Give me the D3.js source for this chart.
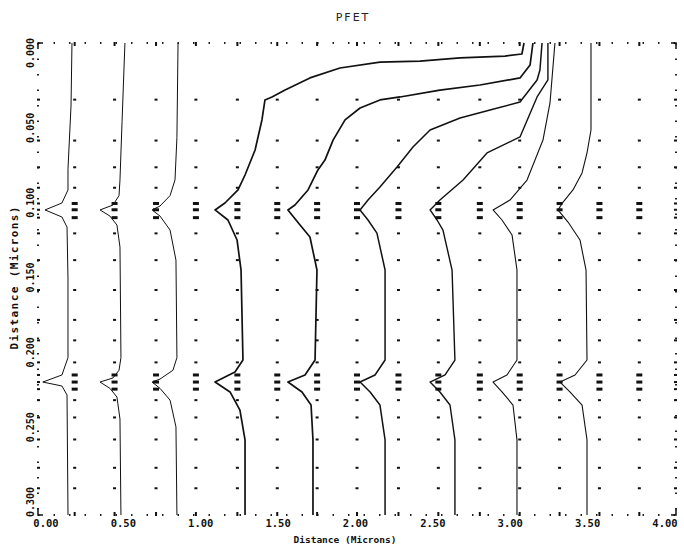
<!DOCTYPE html>
<html>
<head>
<meta charset="utf-8">
<script src="https://cdn.jsdelivr.net/npm/d3@7"></script>
<style>
  body { margin: 0; background: #fff; }
  svg { display: block; }
  .tick-label { font-family: "DejaVu Sans Mono", monospace; font-weight: bold; fill: #111; }
</style>
</head>
<body>
<div id="chart"></div>
<script>
// x / y in microns (x = distance along surface, y = depth)
const xTicks = [0, 0.5, 1.0, 1.5, 2.0, 2.5, 3.0, 3.5, 4.0];
const yTicks = [0, 0.05, 0.10, 0.15, 0.20, 0.25, 0.30];

// mesh node columns / rows
const meshX = [0.23, 0.48, 0.74, 0.99, 1.25, 1.50, 1.75, 2.00, 2.26, 2.51, 2.77, 3.02, 3.27, 3.52, 3.77];
const meshY = [0.036, 0.062, 0.079, 0.092, 0.121, 0.138, 0.157, 0.176, 0.189, 0.203, 0.227, 0.238, 0.252, 0.270, 0.283];
const meshYDense = [0.102, 0.106, 0.111, 0.211, 0.2155, 0.220];

// contour lines, [x, depth]
const line1 = [[0.213,0],[0.207,0.040],[0.188,0.080],[0.188,0.0934],[0.150,0.1017],[0.044,0.1061],[0.150,0.1106],[0.182,0.1170],[0.188,0.150],[0.188,0.200],[0.150,0.2110],[0.030,0.2155],[0.150,0.2180],[0.182,0.2237],[0.188,0.3]];
const line2 = [[0.545,0],[0.527,0.050],[0.514,0.087],[0.508,0.097],[0.470,0.1030],[0.389,0.1061],[0.451,0.1100],[0.495,0.1157],[0.514,0.1297],[0.520,0.200],[0.508,0.2080],[0.470,0.2129],[0.389,0.2155],[0.451,0.2195],[0.495,0.2250],[0.514,0.2390],[0.520,0.3]];
const line3 = [[0.878,0],[0.871,0.060],[0.859,0.087],[0.828,0.097],[0.765,0.1036],[0.715,0.1061],[0.765,0.1100],[0.828,0.1189],[0.865,0.1380],[0.871,0.200],[0.846,0.2080],[0.765,0.2136],[0.715,0.2155],[0.765,0.2195],[0.828,0.2270],[0.865,0.2440],[0.871,0.3]];
const lineA = [[3.047,0],[3.034,0.0070],[2.928,0.0083],[2.646,0.0095],[2.395,0.0115],[2.144,0.0121],[1.893,0.0159],[1.705,0.0222],[1.549,0.0299],[1.467,0.0343],[1.423,0.0362],[1.404,0.0489],[1.361,0.0680],[1.298,0.0839],[1.254,0.0934],[1.172,0.1017],[1.110,0.1061],[1.191,0.1125],[1.248,0.1252],[1.273,0.1443],[1.285,0.2015],[1.235,0.2091],[1.110,0.2155],[1.204,0.2218],[1.266,0.2333],[1.298,0.2523],[1.298,0.3]];
const lineB = [[3.103,0],[3.085,0.0140],[3.022,0.0222],[2.771,0.0267],[2.520,0.0299],[2.270,0.0343],[2.144,0.0362],[2.019,0.0413],[1.925,0.0489],[1.850,0.0617],[1.799,0.0744],[1.755,0.0807],[1.693,0.0934],[1.611,0.1030],[1.567,0.1061],[1.643,0.1157],[1.705,0.1233],[1.749,0.1443],[1.737,0.2015],[1.674,0.2110],[1.567,0.2155],[1.655,0.2218],[1.712,0.2301],[1.724,0.2523],[1.724,0.3]];
const lineC = [[3.160,0],[3.147,0.0172],[3.129,0.0235],[3.022,0.0375],[2.834,0.0426],[2.646,0.0477],[2.458,0.0553],[2.351,0.0661],[2.251,0.0788],[2.144,0.0915],[2.069,0.0998],[2.019,0.1061],[2.069,0.1125],[2.125,0.1208],[2.176,0.1443],[2.176,0.2015],[2.113,0.2110],[2.019,0.2155],[2.082,0.2218],[2.144,0.2301],[2.176,0.2523],[2.176,0.3]];
const lineD = [[3.197,0],[3.197,0.0235],[3.129,0.0343],[3.022,0.0597],[2.815,0.0699],[2.665,0.0871],[2.520,0.0998],[2.458,0.1061],[2.502,0.1125],[2.539,0.1189],[2.596,0.1443],[2.614,0.2015],[2.552,0.2110],[2.458,0.2155],[2.520,0.2218],[2.583,0.2301],[2.614,0.2523],[2.614,0.3]];
const lineE = [[3.241,0],[3.210,0.0381],[3.166,0.0617],[3.066,0.0871],[2.959,0.0998],[2.853,0.1061],[2.909,0.1125],[2.972,0.1220],[3.003,0.1443],[3.003,0.2015],[2.940,0.2110],[2.853,0.2155],[2.909,0.2218],[2.978,0.2301],[3.003,0.2523],[3.003,0.3]];
const lineF = [[3.467,0],[3.467,0.0553],[3.442,0.0699],[3.411,0.0826],[3.354,0.0934],[3.292,0.1011],[3.260,0.1061],[3.323,0.1138],[3.398,0.1252],[3.436,0.1443],[3.442,0.2015],[3.367,0.2110],[3.273,0.2155],[3.335,0.2218],[3.411,0.2301],[3.442,0.2523],[3.442,0.3]];

const contours = [line1, line2, line3, lineA, lineB, lineC, lineD, lineE, lineF];
const contourWidths = [1, 1, 1, 1.7, 1.7, 1.5, 1.4, 1.1, 1.1];

const width = 684, height = 553;

const x = d3.scaleLinear().domain([0, 4]).range([38, 676]);
const y = d3.scaleLinear().domain([0, 0.3]).range([43, 515]);
// the plotter puts its labels slightly inside the frame
const xLab = d3.scaleLinear().domain([0, 4]).range([46, 665]);
const yLab = d3.scaleLinear().domain([0, 0.3]).range([53, 502]);

const svg = d3.select('#chart')
  .append('svg')
  .attr('width', width)
  .attr('height', height);

// frame, drawn as a dotted border like the plotter output
const frame = svg.append('g')
  .attr('stroke', '#222')
  .attr('stroke-width', 2)
  .attr('stroke-dasharray', '1.5,14');
frame.append('line').attr('x1', x(0)).attr('x2', x(4)).attr('y1', y(0)).attr('y2', y(0));
frame.append('line').attr('x1', x(0)).attr('x2', x(4)).attr('y1', y(0.3)).attr('y2', y(0.3));
frame.append('line').attr('x1', x(0)).attr('x2', x(0)).attr('y1', y(0)).attr('y2', y(0.3));
frame.append('line').attr('x1', x(4)).attr('x2', x(4)).attr('y1', y(0)).attr('y2', y(0.3));

// corner marks
const corners = svg.append('g').attr('stroke', '#111').attr('stroke-width', 1.5).attr('fill', 'none');
corners.append('path').attr('d', `M${x(0)},${y(0) + 6}V${y(0)}H${x(0) + 5}`);
corners.append('path').attr('d', `M${x(4) - 5},${y(0)}H${x(4)}V${y(0) + 6}`);
corners.append('path').attr('d', `M${x(0)},${y(0.3) - 6}V${y(0.3)}H${x(0) + 5}`);
corners.append('path').attr('d', `M${x(4) - 5},${y(0.3)}H${x(4)}V${y(0.3) - 6}`);

// mesh nodes on the frame
const edgeNodes = svg.append('g').attr('fill', '#111');
meshX.forEach(mx => {
  edgeNodes.append('rect').attr('x', x(mx) - 1).attr('y', y(0) - 1).attr('width', 2).attr('height', 4);
  edgeNodes.append('rect').attr('x', x(mx) - 1).attr('y', y(0.3) - 3).attr('width', 2).attr('height', 4);
});
meshY.concat(meshYDense).forEach(my => {
  edgeNodes.append('rect').attr('x', x(0) - 1).attr('y', y(my) - 1).attr('width', 3).attr('height', 2);
  edgeNodes.append('rect').attr('x', x(4) - 2).attr('y', y(my) - 1).attr('width', 3).attr('height', 2);
});

// interior mesh nodes
const nodes = [];
meshX.forEach(mx => meshY.forEach(my => nodes.push([mx, my])));
svg.append('g')
  .selectAll('rect')
  .data(nodes)
  .enter().append('rect')
  .attr('x', d => x(d[0]) - 1.5)
  .attr('y', d => y(d[1]) - 1)
  .attr('width', 3)
  .attr('height', 2)
  .attr('fill', '#111');

const dense = [];
meshX.forEach(mx => meshYDense.forEach(my => dense.push([mx, my])));
svg.append('g')
  .selectAll('rect')
  .data(dense)
  .enter().append('rect')
  .attr('x', d => x(d[0]) - 3)
  .attr('y', d => y(d[1]) - 1.5)
  .attr('width', 6)
  .attr('height', 3)
  .attr('fill', '#111');

// contours
const line = d3.line()
  .x(d => x(d[0]))
  .y(d => y(d[1]));

svg.append('g')
  .selectAll('path')
  .data(contours)
  .enter().append('path')
  .attr('d', line)
  .attr('fill', 'none')
  .attr('stroke', '#111')
  .attr('stroke-linejoin', 'round')
  .attr('stroke-width', (d, i) => contourWidths[i]);

// tick labels
svg.append('g')
  .selectAll('text')
  .data(xTicks)
  .enter().append('text')
  .attr('class', 'tick-label')
  .attr('x', d => xLab(d))
  .attr('y', 527)
  .attr('text-anchor', 'middle')
  .attr('font-size', 10.5)
  .text(d => d3.format('.2f')(d));

svg.append('g')
  .selectAll('text')
  .data(yTicks)
  .enter().append('text')
  .attr('class', 'tick-label')
  .attr('transform', d => `translate(34,${yLab(d)}) rotate(-90)`)
  .attr('text-anchor', 'middle')
  .attr('font-size', 10)
  .text(d => d3.format('.3f')(d));

// titles
svg.append('text')
  .attr('x', 353)
  .attr('y', 21)
  .attr('text-anchor', 'middle')
  .attr('font-family', 'DejaVu Sans')
  .attr('font-size', 11)
  .attr('letter-spacing', 2)
  .attr('fill', '#222')
  .text('PFET');

svg.append('text')
  .attr('class', 'tick-label')
  .attr('x', 345)
  .attr('y', 543)
  .attr('text-anchor', 'middle')
  .attr('font-size', 9.5)
  .text('Distance (Microns)');

svg.append('text')
  .attr('class', 'tick-label')
  .attr('transform', 'translate(18,278) rotate(-90)')
  .attr('text-anchor', 'middle')
  .attr('font-size', 11)
  .attr('textLength', 143)
  .attr('lengthAdjust', 'spacing')
  .text('Distance (Microns)');
</script>
</body>
</html>
